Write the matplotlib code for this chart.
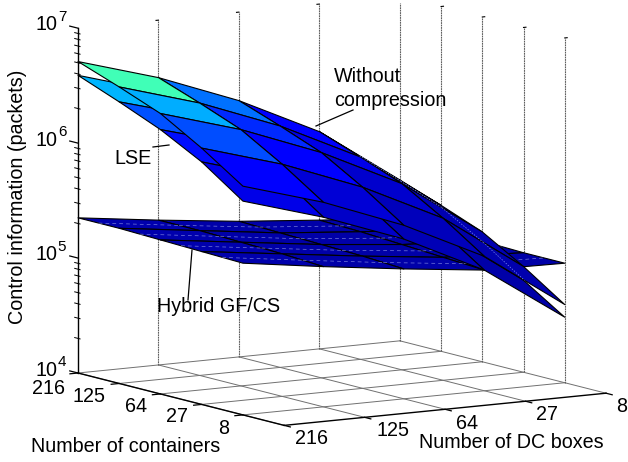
import numpy as np
import matplotlib
matplotlib.use('Agg')
import matplotlib.pyplot as plt
from matplotlib.lines import Line2D
from mpl_toolkits.mplot3d import proj3d
from mpl_toolkits.mplot3d.art3d import Line3DCollection

plt.rcParams['font.family'] = ['Liberation Sans', 'DejaVu Sans']

W, H = 628, 462

# tick labels, rows = containers, columns = DC boxes
dc_boxes = ['216', '125', '64', '27', '8']
containers = ['216', '125', '64', '27', '8']

# log10(packets)
log_no_compression = np.array([
    [6.71, 6.50, 6.23, 5.89, 5.40],
    [6.58, 6.37, 6.10, 5.76, 5.27],
    [6.44, 6.23, 5.96, 5.62, 5.13],
    [6.23, 6.02, 5.75, 5.41, 4.92],
    [5.99, 5.78, 5.51, 5.17, 4.68]])
log_lse = np.array([
    [6.59, 6.38, 6.11, 5.77, 5.28],
    [6.45, 6.25, 5.98, 5.64, 5.15],
    [6.30, 6.10, 5.83, 5.49, 5.00],
    [6.11, 5.90, 5.63, 5.29, 4.80],
    [5.86, 5.65, 5.39, 5.05, 4.57]])
log_hybrid = np.array([
    [5.35, 5.26, 5.18, 5.12, 5.07],
    [5.35, 5.26, 5.17, 5.11, 5.06],
    [5.34, 5.25, 5.16, 5.09, 5.05],
    [5.33, 5.24, 5.15, 5.07, 5.04],
    [5.32, 5.22, 5.13, 5.05, 5.04]])

x_pos = np.arange(5)          # DC boxes, 216 at the left
y_pos = np.arange(5, 0, -1)   # containers, 216 at the back
X, Y = np.meshgrid(x_pos, y_pos)


def px(x, y):
    return x / W, 1 - y / H


def colors(logz):
    return plt.cm.jet(0.035 + (10 ** logz / 1.0e7) ** 1.4)


fig = plt.figure(figsize=(W / 100, H / 100), dpi=100)
ax = fig.add_axes([0, 0, 1, 1], projection='3d', computed_zorder=False)
ax.set_proj_type('ortho')
ax.view_init(elev=9.17, azim=-122.1)
ax.set_xlim(0, 4, view_margin=0)
ax.set_ylim(0, 5, view_margin=0)
ax.set_zlim(4, 7, view_margin=0)
ax.set_box_aspect((378, 386, 347.5))
ax.set_axis_off()

# put the axes so that the box corners land where they are in the picture
M = ax.get_proj()
xl, yl, _ = proj3d.proj_transform(0, 5, 4, M)
xr, yr, _ = proj3d.proj_transform(4, 0, 4, M)
s = (606 - 78) / (xr - xl)
vl = ax.viewLim
ax_w = s * vl.width
ax_h = s * vl.height
left = 78 - s * (xl - vl.x0)
bottom = (H - 373) - s * (yl - vl.y0)
ax.set_position([left / W, bottom / H, ax_w / W, ax_h / H])


def line(xs, ys, zs, **kw):
    ax.plot(xs, ys, zs, clip_on=False, **kw)


# floor grid
gray = '#707070'
for x in x_pos:
    line([x, x], [0, 5], [4, 4], color=gray, lw=0.7, zorder=1)
for y in y_pos:
    line([0, 4], [y, y], [4, 4], color=gray, lw=0.7, zorder=1)

# wall lines up to the top, back corner is cut by the picture edge
wall_style = dict(color='#606060', lw=0.8, ls=(0, (1.6, 0.6)), zorder=1)
for x in x_pos[1:]:
    top = 6.94 if x == 4 else 7
    line([x, x], [5, 5], [4, top], **wall_style)
    if x < 4:
        line([x, x - 0.03], [5, 5], [7, 7], color='k', lw=0.8, zorder=1)
for y in y_pos[1:]:
    line([4, 4], [y, y], [4, 7], **wall_style)
    line([4, 4.03], [y, y], [7, 7], color='k', lw=0.8, zorder=1)

# axes lines and ticks
line([0, 0], [5, 0], [4, 4], color='k', lw=1, zorder=2)
line([0, 4], [0, 0], [4, 4], color='k', lw=1, zorder=2)
line([0, 0], [5, 5], [4, 7], color='k', lw=1, zorder=2)
for y in y_pos:
    line([0, -0.1], [y, y], [4, 4], color='k', lw=0.9, zorder=2)
for x in x_pos:
    line([x, x], [0, -0.15], [4, 4], color='k', lw=0.9, zorder=2)
for k in [4, 5, 6, 7]:
    line([0, 0], [5, 5.2], [k, k], color='k', lw=0.9, zorder=2)
for k in [4, 5, 6]:
    for m in range(2, 10):
        z = k + np.log10(m)
        line([0, 0], [4.95, 5.08], [z, z], color='k', lw=0.7, zorder=2)


def surf(logz, zo):
    c = ax.plot_surface(X, Y, logz, rstride=1, cstride=1, facecolors=colors(logz),
                        shade=False, edgecolor='k', linewidth=0.8, antialiased=True,
                        zorder=zo)
    c.set_clip_on(False)


surf(log_hybrid, 3)
surf(log_lse, 4)
surf(log_no_compression, 6)

# the pale broken streaks across the panels
segs = []
for i in range(4):
    for j in range(4):
        a = log_hybrid[i:i + 2, j].mean()
        b = log_hybrid[i:i + 2, j + 1].mean()
        segs.append([(j, 4.5 - i, a), (j + 1, 4.5 - i, b)])
ax.add_collection3d(Line3DCollection(segs, colors='#7f86e0', linewidths=0.45,
                                     linestyles=(0, (6, 5)), zorder=3.5))
segs = []
for i in range(4):
    a = log_no_compression[i, 3:5].mean()
    b = log_no_compression[i + 1, 3:5].mean()
    segs.append([(3.5, 5 - i, a), (3.5, 4 - i, b)])
ax.add_collection3d(Line3DCollection(segs, colors='#7f8cf5', linewidths=0.5,
                                     linestyles=(0, (2, 2)), zorder=6.5))

# text, pixel positions from the picture
fs = 14.2
for lab, (tx, ty) in zip(containers, [(48.5, 388), (89.5, 396), (136, 407), (177, 417), (224, 428)]):
    fig.text(*px(tx, ty), lab, fontsize=fs, ha='center', va='center')
for lab, (tx, ty) in zip(dc_boxes, [(312, 438), (393, 431), (467, 423.5), (547, 415), (622, 406)]):
    fig.text(*px(tx, ty), lab, fontsize=fs, ha='center', va='center')
fig.text(*px(126, 447), 'Number of containers', fontsize=fs, ha='center', va='center')
fig.text(*px(511.5, 443), 'Number of DC boxes', fontsize=fs, ha='center', va='center')
fig.text(*px(18, 197), 'Control information (packets)', fontsize=fs, rotation=90,
         ha='center', va='center')
for e, yb, ye in [('7', 25, 17), ('6', 140, 132), ('5', 255, 247), ('4', 370, 362)]:
    fig.text(*px(46.5, yb), '10', fontsize=fs, ha='center', va='center')
    fig.text(*px(62, ye), e, fontsize=11, ha='center', va='center')

fig.text(*px(133, 158), 'LSE', fontsize=fs, ha='center', va='center')
fig.text(*px(334, 77), 'Without', fontsize=fs, ha='left', va='center')
fig.text(*px(334, 100), 'compression', fontsize=fs, ha='left', va='center')
fig.text(*px(219, 307), 'Hybrid GF/CS', fontsize=fs, ha='center', va='center')

for (x0, y0), (x1, y1) in [((153, 147), (169, 145)), ((316, 126), (353, 110)), ((192, 250), (188, 300))]:
    a, b = px(x0, y0), px(x1, y1)
    fig.add_artist(Line2D([a[0], b[0]], [a[1], b[1]], color='k', lw=0.9, zorder=20))

fig.savefig('out.png', dpi=100)
